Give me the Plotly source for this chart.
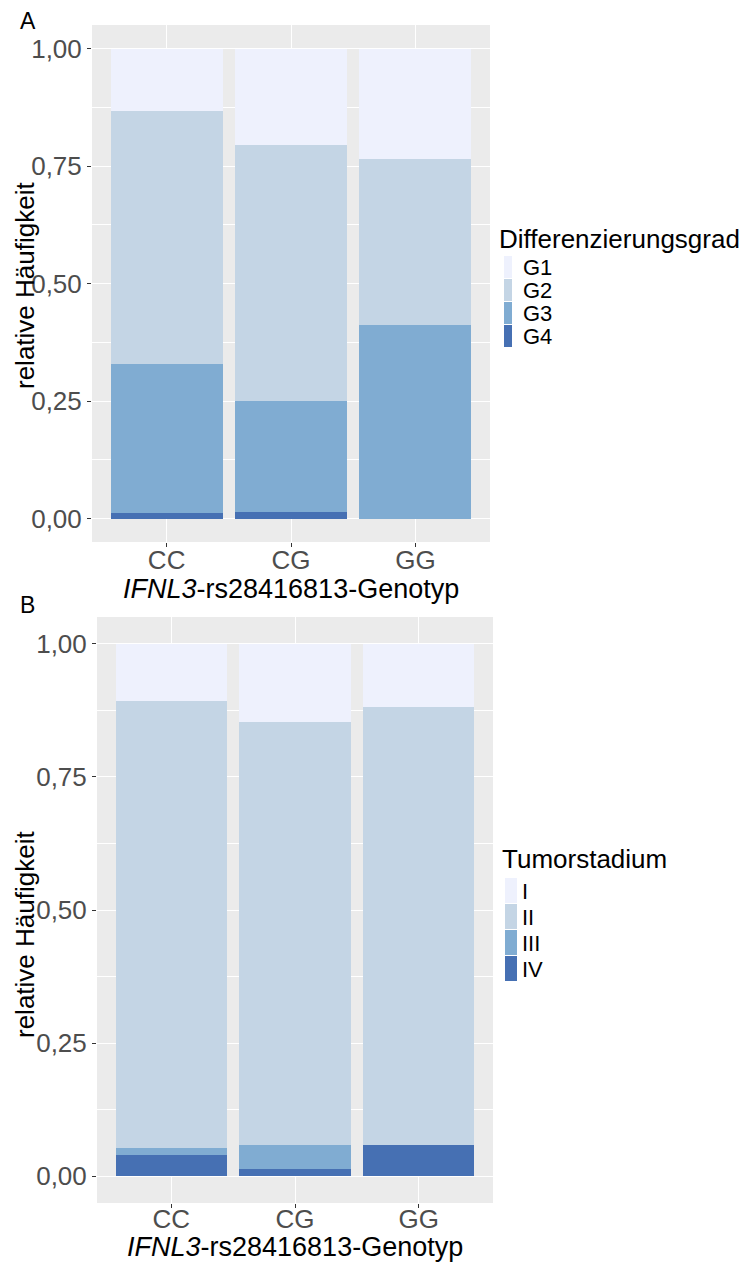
import plotly.graph_objects as go

# ---- data -------------------------------------------------------------
genotypes = ["CC", "CG", "GG"]

# Panel A: relative frequency of differentiation grade per genotype
grade_labels = ["G1", "G2", "G3", "G4"]
grade_G1 = [0.132, 0.205, 0.235]
grade_G2 = [0.540, 0.546, 0.354]
grade_G3 = [0.316, 0.236, 0.411]
grade_G4 = [0.012, 0.013, 0.000]

# Panel B: relative frequency of tumour stage per genotype
stage_labels = ["I", "II", "III", "IV"]
stage_I = [0.108, 0.147, 0.118]
stage_II = [0.838, 0.794, 0.823]
stage_III = [0.013, 0.045, 0.000]
stage_IV = [0.041, 0.014, 0.059]

y_tickvals = [0, 0.25, 0.5, 0.75, 1.0]
y_ticktext = ["0,00", "0,25", "0,50", "0,75", "1,00"]

# ---- style ------------------------------------------------------------
W, H = 747, 1262
FONT = "Liberation Sans, Arial, sans-serif"
palette = ["#EEF1FD", "#C4D5E5", "#80ACD2", "#4670B3"]  # lightest (top) -> darkest (bottom)
PANEL_BG = "#EBEBEB"


def px_x(x):
    return x / W


def px_y(y):
    return 1 - y / H


fig = go.Figure()

# stacked bars: bottom category first so the lightest class ends on top
panel_a = list(zip(grade_labels, [grade_G1, grade_G2, grade_G3, grade_G4], palette))
panel_b = list(zip(stage_labels, [stage_I, stage_II, stage_III, stage_IV], palette))

for name, vals, col in reversed(panel_a):
    fig.add_trace(go.Bar(x=genotypes, y=vals, name=name, marker=dict(color=col, line=dict(width=0)),
                         width=0.9, xaxis="x", yaxis="y", showlegend=False))
for name, vals, col in reversed(panel_b):
    fig.add_trace(go.Bar(x=genotypes, y=vals, name=name, marker=dict(color=col, line=dict(width=0)),
                         width=0.9, xaxis="x2", yaxis="y2", showlegend=False))

xax = dict(type="category", range=[-0.6, 2.6], showgrid=True, gridcolor="white", gridwidth=1.2,
           ticks="outside", ticklen=4, tickcolor="#333333", tickwidth=1, ticklabelstandoff=-9,
           tickfont=dict(family=FONT, size=26, color="#4D4D4D"), zeroline=False, showline=False,
           fixedrange=True)
yax = dict(range=[-0.05, 1.05], tickvals=y_tickvals, ticktext=y_ticktext, showgrid=True,
           gridcolor="white", gridwidth=1.2, ticks="outside", ticklen=4, tickcolor="#333333",
           tickwidth=1, tickfont=dict(family=FONT, size=26, color="#4D4D4D"), zeroline=False,
           showline=False, fixedrange=True,
           minor=dict(tick0=0.125, dtick=0.25, showgrid=True, gridcolor="white", gridwidth=0.6))

fig.update_layout(
    width=W, height=H, margin=dict(l=0, r=0, t=0, b=0, pad=0),
    paper_bgcolor="white", plot_bgcolor=PANEL_BG, barmode="stack", bargap=0,
    font=dict(family=FONT, color="black"),
    xaxis=dict(xax, domain=[px_x(92), px_x(490)], anchor="y"),
    yaxis=dict(yax, domain=[px_y(542), px_y(25)], anchor="x"),
    xaxis2=dict(xax, domain=[px_x(97), px_x(493)], anchor="y2", ticklabelstandoff=-11),
    yaxis2=dict(yax, domain=[px_y(1203), px_y(617)], anchor="x2"),
)

annotations = []
shapes = []


def text(x, y, s, size, anchor="left", angle=0, color="black"):
    annotations.append(dict(x=px_x(x), y=px_y(y), xref="paper", yref="paper", text=s, showarrow=False,
                            xanchor=anchor, yanchor="middle", textangle=angle,
                            font=dict(family=FONT, size=size, color=color)))


# panel letters
text(18, 21, "A", 23)
text(18, 605, "B", 23)

# axis titles
xtitle = "<i>IFNL3</i>-rs28416813-Genotyp"
text(291, 589, xtitle, 27, anchor="center")
text(295, 1247, xtitle, 27, anchor="center")
text(25, 286, "relative Häufigkeit", 26, anchor="center", angle=-90)
text(25, 935, "relative Häufigkeit", 26, anchor="center", angle=-90)


def legend(title, labels, x_title, y_title, x0, x1, y_keys, key_h, x_lab, size_lab):
    text(x_title, y_title, title, 26)
    for i, (lab, col) in enumerate(zip(labels, palette)):
        top = y_keys + i * key_h
        shapes.append(dict(type="rect", xref="paper", yref="paper", x0=px_x(x0), x1=px_x(x1),
                           y0=px_y(top + key_h - 1), y1=px_y(top), fillcolor=col,
                           line=dict(width=0), layer="above"))
        text(x_lab, top + key_h / 2, lab, size_lab)


legend("Differenzierungsgrad", grade_labels, 497, 239, 504, 512, 256, 23, 521, 22)
legend("Tumorstadium", stage_labels, 500, 859, 505, 517, 878, 26, 520, 22)

fig.update_layout(annotations=annotations, shapes=shapes)

fig.write_html("out.html")
